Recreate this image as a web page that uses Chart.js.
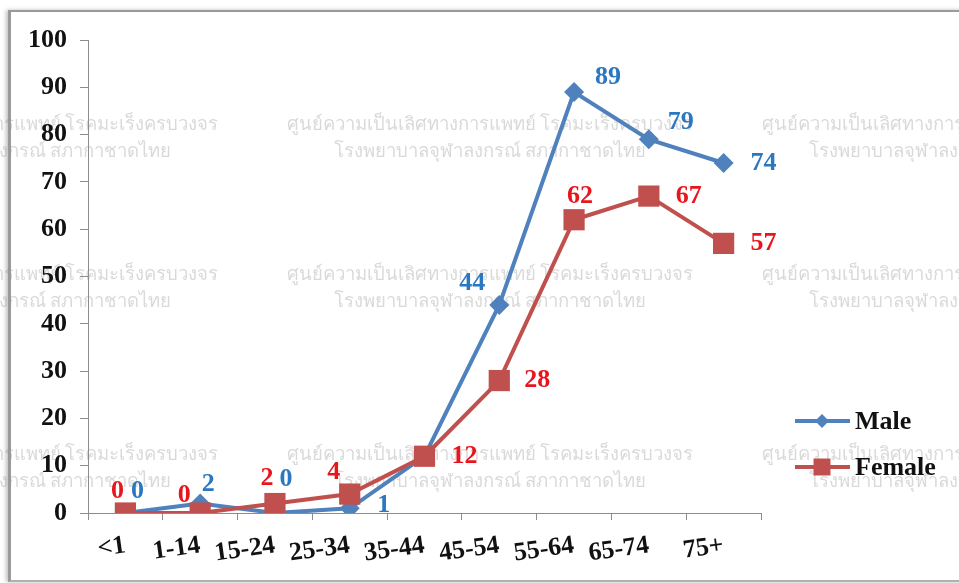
<!DOCTYPE html>
<html lang="th">
<head>
<meta charset="UTF-8">
<title>Male / Female by age group</title>
<style>
    html, body {
        margin: 0;
        padding: 0;
        background: #ffffff;
        overflow: hidden;
    }
    .frame {
        position: absolute;
        left: 8px;
        top: 10px;
        width: 960px;
        height: 568px;
        border-left: 3px solid #9a9a9a;
        border-top: 2px solid #9a9a9a;
        border-bottom: 2px solid #b0b0b0;
        box-shadow: -2px 0 4px rgba(0, 0, 0, 0.25);
    }
    #wrap {
        position: absolute;
        left: 0;
        top: 0;
        width: 959px;
        height: 583px;
    }
</style>
</head>
<body>
<div class="frame"></div>
<div id="wrap"><canvas id="chart"></canvas></div>
<script src="https://cdn.jsdelivr.net/npm/chart.js"></script>
<script>
// data
const categories = ['<1', '1-14', '15-24', '25-34', '35-44', '45-54', '55-64', '65-74', '75+'];
const male = [0, 2, 0, 1, 12, 44, 89, 79, 74];
const female = [0, 0, 2, 4, 12, 28, 62, 67, 57];
const yTicks = [0, 10, 20, 30, 40, 50, 60, 70, 80, 90, 100];
const seriesNames = ['Male', 'Female'];

const watermark = ['ศูนย์ความเป็นเลิศทางการแพทย์ โรคมะเร็งครบวงจร', 'โรงพยาบาลจุฬาลงกรณ์ สภากาชาดไทย'];

const serif = "'Liberation Serif', 'Times New Roman', serif";
const blue = '#4f81bd', red = '#c0504d';
const blueText = '#2a78c0', redText = '#e8151c';

// light grey watermark behind everything
const watermarkPlugin = {
    id: 'watermark',
    beforeDraw(chart) {
        const ctx = chart.ctx;
        ctx.save();
        ctx.fillStyle = 'rgba(150,150,150,0.36)';
        ctx.font = "18.5px 'Noto Sans', 'DejaVu Sans', sans-serif";
        ctx.textAlign = 'center';
        ctx.textBaseline = 'middle';
        const rows = [125, 275, 455];
        const cols = [15, 490, 965];
        rows.forEach(y => cols.forEach(x => {
            ctx.fillText(watermark[0], x, y);
            ctx.fillText(watermark[1], x, y + 27);
        }));
        ctx.restore();
    }
};

// value labels next to each point
const valueLabels = {
    id: 'valueLabels',
    afterDatasetsDraw(chart) {
        const ctx = chart.ctx;
        ctx.save();
        ctx.font = 'bold 26px ' + serif;
        ctx.textAlign = 'center';
        ctx.textBaseline = 'middle';
        chart.data.datasets.forEach((ds, i) => {
            const meta = chart.getDatasetMeta(i);
            ctx.fillStyle = ds.labelColor;
            meta.data.forEach((pt, j) => {
                const off = ds.labelOffsets[j];
                if (!off) return;
                ctx.fillText(String(ds.data[j]), pt.x + off[0], pt.y + off[1]);
            });
        });
        ctx.restore();
    }
};

// excel-like legend: line with a small marker, then the name
const sideLegend = {
    id: 'sideLegend',
    afterDraw(chart) {
        const ctx = chart.ctx;
        const x0 = chart.chartArea.right + 34;
        const ys = [421, 467];
        ctx.save();
        chart.data.datasets.forEach((ds, i) => {
            const y = ys[i];
            ctx.strokeStyle = ds.borderColor;
            ctx.lineWidth = 4;
            ctx.beginPath();
            ctx.moveTo(x0, y);
            ctx.lineTo(x0 + 55, y);
            ctx.stroke();
            ctx.fillStyle = ds.borderColor;
            Chart.helpers.drawPoint(ctx, {
                pointStyle: ds.pointStyle,
                radius: ds.legendRadius,
                borderWidth: 0
            }, x0 + 27, y);
            ctx.fillStyle = '#111';
            ctx.font = 'bold 26px ' + serif;
            ctx.textAlign = 'left';
            ctx.textBaseline = 'middle';
            ctx.fillText(ds.label, x0 + 60, y + 1);
        });
        ctx.restore();
    }
};

new Chart(document.getElementById('chart'), {
    type: 'line',
    data: {
        labels: categories,
        datasets: [{
            label: seriesNames[0],
            data: male,
            borderColor: blue,
            backgroundColor: blue,
            borderWidth: 4,
            pointStyle: 'rectRot',
            pointRadius: 10,
            pointHoverRadius: 10,
            pointBorderWidth: 0,
            legendRadius: 7,
            tension: 0,
            order: 2,
            labelColor: blueText,
            labelOffsets: [[12, -22], [8, -19], [11, -34], [34, -3], null, [-27, -22], [34, -15], [32, -17], [40, 0]]
        }, {
            label: seriesNames[1],
            data: female,
            borderColor: red,
            backgroundColor: red,
            borderWidth: 4,
            pointStyle: 'rect',
            pointRadius: 15,
            pointHoverRadius: 15,
            pointBorderWidth: 0,
            legendRadius: 12,
            tension: 0,
            order: 1,
            labelColor: redText,
            labelOffsets: [[-8, -22], [-16, -18], [-8, -25], [-16, -22], [40, 0], [38, 0], [6, -23], [40, 0], [40, 0]]
        }]
    },
    options: {
        responsive: true,
        maintainAspectRatio: false,
        animation: false,
        layout: { padding: { left: 0, top: 40, right: 198, bottom: 0 } },
        plugins: {
            legend: { display: false },
            tooltip: { enabled: false }
        },
        scales: {
            x: {
                offset: true,
                grid: {
                    offset: true,
                    drawOnChartArea: false,
                    drawTicks: true,
                    tickLength: 7,
                    color: '#8c8c8c'
                },
                border: { color: '#8c8c8c', width: 1 },
                ticks: {
                    color: '#111',
                    font: { family: serif, size: 26, weight: 'bold' },
                    minRotation: 8,
                    maxRotation: 8,
                    autoSkip: false,
                    padding: 10
                },
                afterFit(s) { s.height = 70; }
            },
            y: {
                min: 0,
                max: 100,
                afterBuildTicks(s) { s.ticks = yTicks.map(v => ({ value: v })); },
                grid: {
                    drawOnChartArea: false,
                    drawTicks: true,
                    tickLength: 8,
                    color: '#8c8c8c'
                },
                border: { color: '#8c8c8c', width: 1 },
                ticks: {
                    color: '#111',
                    font: { family: serif, size: 26, weight: 'bold' },
                    padding: 13
                },
                afterFit(s) { s.width = 88; }
            }
        }
    },
    plugins: [watermarkPlugin, valueLabels, sideLegend]
});
</script>
</body>
</html>
